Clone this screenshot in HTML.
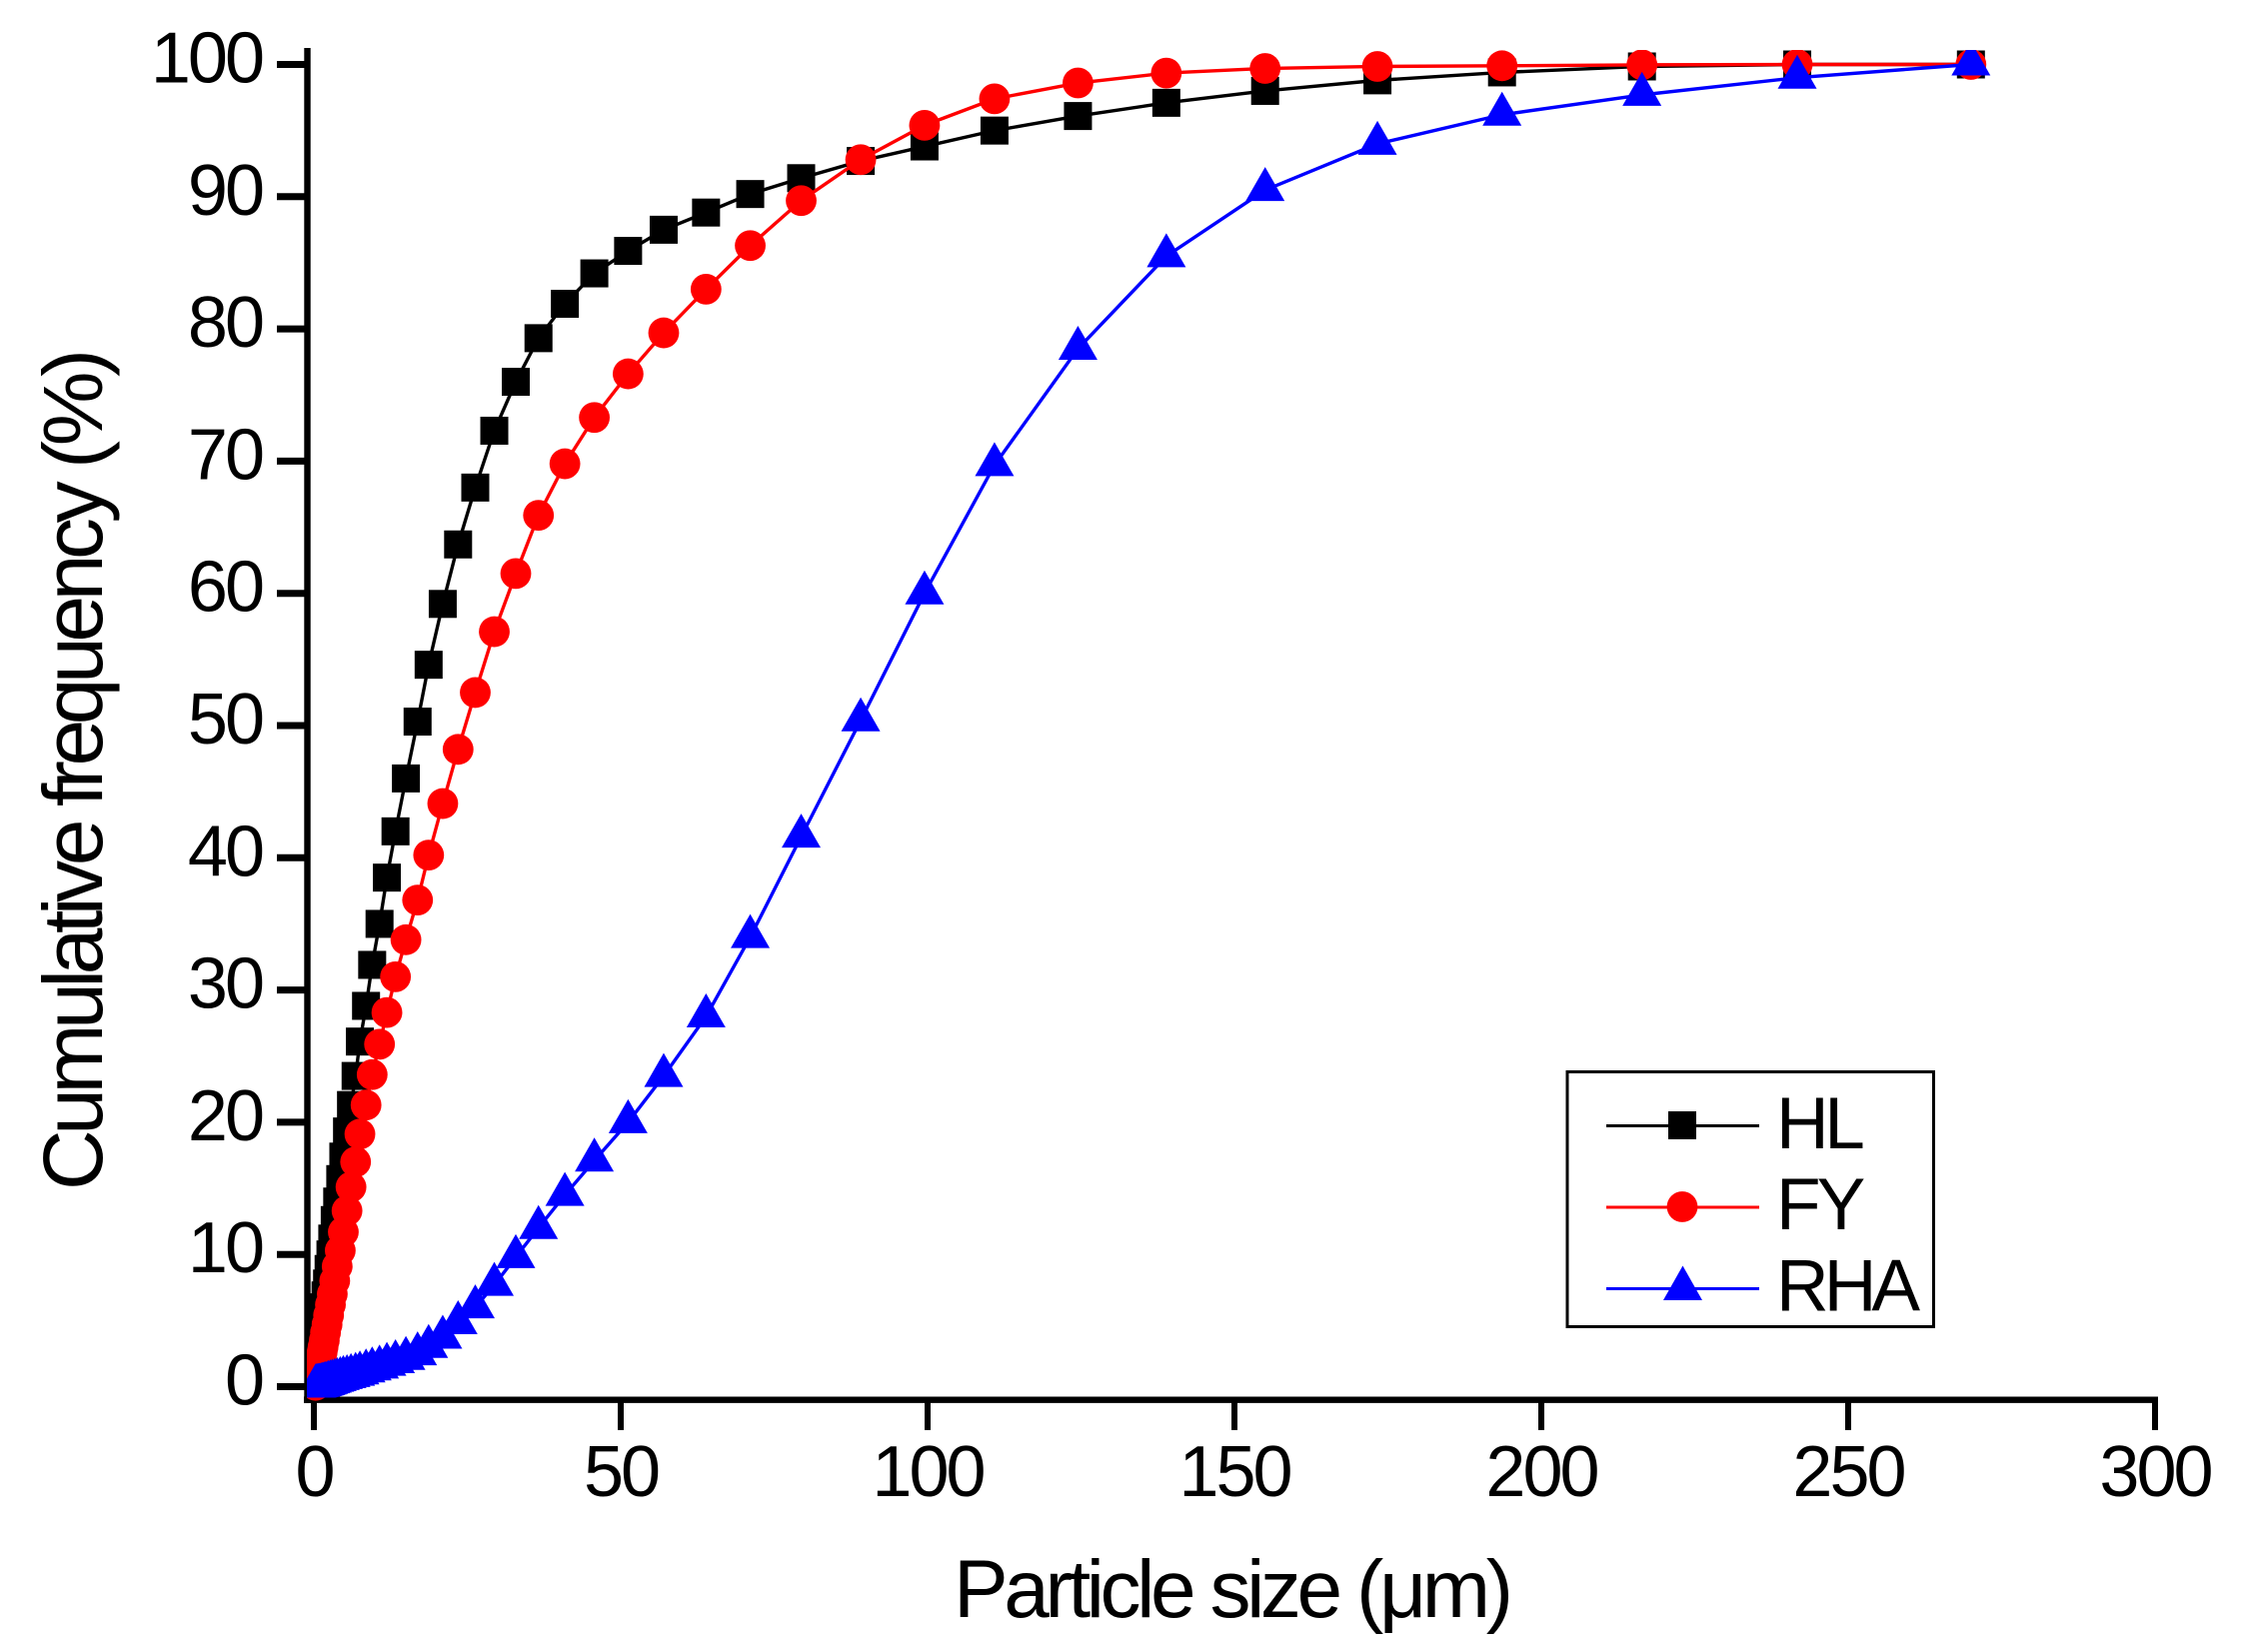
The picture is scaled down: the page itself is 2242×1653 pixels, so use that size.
<!DOCTYPE html>
<html lang="en">
<head>
<meta charset="utf-8">
<title>Cumulative frequency vs particle size</title>
<style>
html,body{margin:0;padding:0;background:#fff;}
svg{display:block;}
text{font-family:"Liberation Sans",Arial,sans-serif;fill:#000;}
</style>
</head>
<body>
<svg id="chart" xmlns="http://www.w3.org/2000/svg" width="2242" height="1653" viewBox="0 0 2242 1653">
  <defs>
    <clipPath id="plot-clip"><rect x="307" y="50" width="1935" height="1353"></rect></clipPath>
  </defs>
  <rect x="0" y="0" width="2242" height="1653" fill="#fff"></rect>
  <g id="axes"></g>
  <text transform="translate(102,1191) rotate(-90)" font-size="84" textLength="842" lengthAdjust="spacing">Cumulative frequency (%)</text>
  <text x="954" y="1618" font-size="82" textLength="560" lengthAdjust="spacing">Particle size (μm)</text>
  <g id="series" clip-path="url(#plot-clip)"></g>
  <g>
    <rect x="1568" y="1072.5" width="366.5" height="255" fill="#fff" stroke="#000" stroke-width="3"></rect>
    <g>
      <line x1="1607" x2="1760" y1="1126.5" y2="1126.5" stroke="#000" stroke-width="3"></line>
      <rect x="1669" y="1112" width="28" height="28" fill="#000"></rect>
      <text x="1777" y="1149" font-size="73" letter-spacing="-4.5">HL</text>
    </g>
    <g>
      <line x1="1607" x2="1760" y1="1208" y2="1208" stroke="#f00" stroke-width="3"></line>
      <circle cx="1683" cy="1207.5" r="15.4" fill="#f00"></circle>
      <text x="1777" y="1230" font-size="73" letter-spacing="-4">FY</text>
    </g>
    <g>
      <line x1="1607" x2="1760" y1="1289.5" y2="1289.5" stroke="#00f" stroke-width="3"></line>
      <polygon points="1683.5,1266.5 1703,1301 1664,1301" fill="#00f"></polygon>
      <text x="1777" y="1311.5" font-size="73" letter-spacing="-5">RHA</text>
    </g>
  </g>
</svg>
<script>
const sizes = [270,241.7,216.4,193.6,173.3,155,138.9,124.5,110.9,99.5,89.1,79.4,71.1,63.9,57,51.2,45.7,40.9,36.6,32.9,29.4,26.3,23.5,21,18.7,16.9,15,13.3,11.9,10.7,9.5,8.5,7.5,6.8,6.05,5.4,4.8,4.3,3.8,3.4,3,2.7,2.4,2.15,1.9,1.7,1.5,1.35,1.2,1.08,0.96,0.86,0.77,0.68,0.61,0.54,0.48,0.43,0.38,0.34,0.3,0.27];
const hlValues = [100,100,99.85,99.4,98.8,98,97.1,96.1,95,93.8,92.7,91.4,90.2,88.8,87.5,85.9,84.2,81.9,79.3,76,72.3,68,63.7,59.2,54.6,50.3,46,42,38.5,35,31.9,28.8,26.1,23.5,21.3,19.3,17.4,15.7,14,12.6,11.2,10,8.9,7.8,6.9,6,5.2,4.5,3.9,3.4,2.9,2.5,2.1,1.8,1.5,1.2,1,0.8,0.6,0.45,0.3,0.2];
const fyValues = [100,100,99.97,99.9,99.85,99.7,99.35,98.6,97.4,95.4,92.8,89.7,86.3,83,79.7,76.6,73.3,69.8,65.9,61.5,57.1,52.5,48.2,44.1,40.2,36.8,33.8,31,28.3,25.9,23.6,21.3,19.1,17,15.1,13.3,11.7,10.3,9.1,8,7,6.2,5.4,4.7,4.1,3.5,3,2.6,2.2,1.9,1.6,1.35,1.1,0.9,0.75,0.6,0.5,0.4,0.3,0.2,0.15,0.1];
const rhaValues = [100,99,97.7,96.2,94,90.5,85.5,78.5,69.7,60,50.4,41.6,34,28,23.5,20,17.1,14.5,12,9.8,7.7,6,4.8,3.7,3,2.45,2.1,1.85,1.65,1.45,1.3,1.15,1,0.9,0.8,0.72,0.65,0.58,0.5,0.44,0.38,0.33,0.28,0.24,0.2,0.17,0.14,0.12,0.1,0.08,0.07,0.06,0.05,0.04,0.03,0.03,0.02,0.02,0.01,0.01,0.01,0];
const xTickLabels = [0,50,100,150,200,250,300];
const yTickLabels = [0,10,20,30,40,50,60,70,80,90,100];

const NS = 'http://www.w3.org/2000/svg';
function xScale(v){ return 314 + v * 6.14; }
function yScale(v){ return 1387.5 - v * 13.23; }
function make(tag, attrs, parent){
  const el = document.createElementNS(NS, tag);
  for (const k in attrs) el.setAttribute(k, attrs[k]);
  parent.appendChild(el);
  return el;
}

const axes = document.getElementById('axes');
const yLine = make('line', {x1:307.5, x2:307.5, y1:48, y2:1404, stroke:'#000', 'stroke-width':6.4}, axes);


const xLine = make('line', {x1:304, x2:2159, y1:1400.7, y2:1400.7, stroke:'#000', 'stroke-width':6.4}, axes);



yTickLabels.forEach(function(t){
  const y = yScale(t);
  const tick = make('line', {x1:277, x2:305, y1:y, y2:y, stroke:'#000', 'stroke-width':7}, axes);
  
  
  const label = make('text', {x:262, y:y + 18, 'font-size':72, 'text-anchor':'end', 'letter-spacing':-3}, axes);
  
  
  label.textContent = t;
});
xTickLabels.forEach(function(t){
  const x = xScale(t);
  const tick = make('line', {x1:x, x2:x, y1:1402, y2:1431, stroke:'#000', 'stroke-width':6}, axes);
  
  
  const label = make('text', {x:x, y:1497, 'font-size':72, 'text-anchor':'middle', 'letter-spacing':-3}, axes);
  
  
  label.textContent = t;
});

const seriesRoot = document.getElementById('series');
function drawSeries(values, color, marker, name){
  const g = make('g', {}, seriesRoot);
  
  
  const pts = values.map(function(v, i){ return xScale(sizes[i]).toFixed(2) + ',' + yScale(v).toFixed(2); }).join(' ');
  const line = make('polyline', {points:pts, fill:'none', stroke:color, 'stroke-width':3.4}, g);
  
  
  values.forEach(function(v, i){
    const cx = xScale(sizes[i]);
    const cy = yScale(v);
    let m;
    if (marker === 'square') {
      m = make('rect', {x:cx - 14, y:cy - 14, width:28, height:28, fill:color}, g);
    } else if (marker === 'circle') {
      m = make('circle', {cx:cx, cy:cy, r:15.4, fill:color}, g);
    } else {
      m = make('polygon', {points:cx + ',' + (cy - 23) + ' ' + (cx + 19.5) + ',' + (cy + 11) + ' ' + (cx - 19.5) + ',' + (cy + 11), fill:color}, g);
    }
    
    
  });
}
drawSeries(hlValues, '#000', 'square', 'series-hl');
drawSeries(fyValues, '#f00', 'circle', 'series-fy');
drawSeries(rhaValues, '#00f', 'triangle', 'series-rha');
</script>
</body>
</html>
